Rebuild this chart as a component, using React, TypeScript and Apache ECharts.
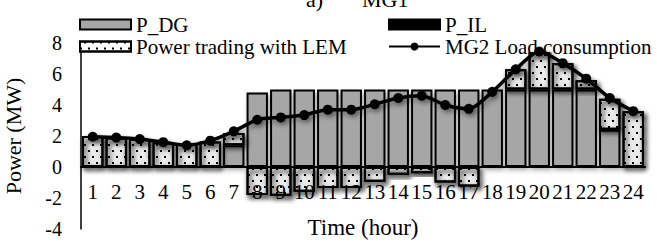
import React, { useEffect, useRef } from "react";
import * as echarts from "echarts";

const hours = ["1","2","3","4","5","6","7","8","9","10","11","12","13","14","15","16","17","18","19","20","21","22","23","24"];
const pDG = [0, 0, 0, 0, 0, 0, 1.4, 4.8, 5, 5, 5, 5, 5, 5, 5, 5, 5, 5, 5, 5, 5, 5, 2.4, 0];
const pLEM = [2.0, 1.9, 1.8, 1.6, 1.5, 1.65, 0.8, -1.8, -1.85, -1.6, -1.35, -1.35, -0.95, -0.5, -0.4, -1.0, -1.25, 0, 1.3, 2.4, 1.7, 0.6, 2.0, 3.6];
const pIL = [0, 0, 0, 0, 0, 0, 0, 0, 0, 0, 0, 0, 0, 0, 0, 0, 0, 0, 0, 0, 0, 0, 0, 0];
const load = [1.95, 1.9, 1.8, 1.6, 1.4, 1.7, 2.3, 3.05, 3.2, 3.35, 3.7, 3.7, 4.05, 4.45, 4.6, 4.0, 3.75, 4.85, 6.3, 7.45, 6.7, 5.7, 4.45, 3.6];
const yTicks = { min: -4, max: 8, interval: 2 };

const FONT = "Liberation Serif";

export default function App() {
  const ref = useRef<HTMLDivElement>(null);
  useEffect(() => {
    if (!ref.current) return;
    const chart = echarts.init(ref.current, null, { renderer: "svg" });
    const shadow = {
      shadowColor: "rgba(0,0,0,0.35)",
      shadowBlur: 5,
      shadowOffsetX: 2,
      shadowOffsetY: 3,
    };
    const legendText = { fontFamily: FONT, fontSize: 21, color: "#000" };
    const gridTop = 43;
    const gridBottom = 13;
    const plotH = 242 - gridTop - gridBottom;
    const zeroOffset = -plotH * (0 - yTicks.min) / (yTicks.max - yTicks.min);
    chart.setOption({
      animation: false,
      backgroundColor: "#fff",
      graphic: [
        { type: "text", left: 306, top: -12, style: { text: "a)", font: `22px '${FONT}'`, fill: "#000" } },
        { type: "text", left: 362, top: -12, style: { text: "MG1", font: `22px '${FONT}'`, fill: "#000" } },
      ],
      legend: [
        {
          left: 74,
          top: 9,
          orient: "vertical",
          itemGap: 1,
          itemWidth: 51,
          itemHeight: 10,
          textStyle: legendText,
          data: [
            { name: "P_DG", icon: "rect" },
            { name: "Power trading with LEM", icon: "rect" },
          ],
        },
        {
          left: 383,
          top: 9,
          orient: "vertical",
          itemGap: 1,
          itemWidth: 51,
          itemHeight: 10,
          textStyle: legendText,
          data: [
            { name: "P_IL", icon: "rect" },
            { name: "MG2 Load consumption" },
          ],
        },
      ],
      grid: { left: 81, right: 12, top: gridTop, bottom: gridBottom, containLabel: false, outerBoundsMode: "none" },
      xAxis: {
        type: "category",
        data: hours,
        position: "bottom",
        offset: zeroOffset,
        name: "Time (hour)",
        nameLocation: "middle",
        nameGap: 49,
        nameTextStyle: { fontFamily: FONT, fontSize: 23, color: "#000" },
        axisLine: { onZero: false, lineStyle: { color: "#000", width: 2 } },
        axisTick: { show: false },
        axisLabel: { fontFamily: FONT, fontSize: 21, color: "#000", margin: 14, interval: 0 },
        z: 10,
      },
      yAxis: {
        type: "value",
        min: yTicks.min,
        max: yTicks.max,
        interval: yTicks.interval,
        name: "Power (MW)",
        nameLocation: "middle",
        nameGap: 57,
        nameTextStyle: { fontFamily: FONT, fontSize: 22, color: "#000" },
        axisLine: { show: true, lineStyle: { color: "#000", width: 1.5 } },
        axisTick: { show: false },
        splitLine: { show: false },
        axisLabel: { fontFamily: FONT, fontSize: 20, color: "#000", margin: 19 },
      },
      series: [
        {
          name: "P_DG",
          type: "bar",
          stack: "p",
          barCategoryGap: "9%",
          data: pDG,
          itemStyle: { color: "#a6a6a6", borderColor: "#000", borderWidth: 2, ...shadow },
        },
        {
          name: "Power trading with LEM",
          type: "bar",
          stack: "p",
          data: pLEM,
          itemStyle: {
            color: "#fff",
            borderColor: "#000",
            borderWidth: 2,
            ...shadow,
            decal: {
              symbol: "rect",
              symbolSize: 1,
              color: "#000",
              dashArrayX: [[2, 6], [0, 4, 2, 2]],
              dashArrayY: [2, 4],
              rotation: 0,
            },
          },
        },
        {
          name: "P_IL",
          type: "bar",
          stack: "p",
          data: pIL.map((v) => (v === 0 ? null : v)),
          itemStyle: { color: "#000", borderColor: "#000", borderWidth: 2 },
        },
        {
          name: "MG2 Load consumption",
          type: "line",
          data: load,
          smooth: 0.25,
          symbol: "circle",
          symbolSize: 10,
          lineStyle: { color: "#000", width: 3.5, ...shadow },
          itemStyle: { color: "#000", ...shadow },
          z: 5,
        },
      ],
    });
    return () => chart.dispose();
  }, []);
  return <div ref={ref} style={{ width: 657, height: 242, position: "absolute", left: 0, top: 0 }} />;
}
